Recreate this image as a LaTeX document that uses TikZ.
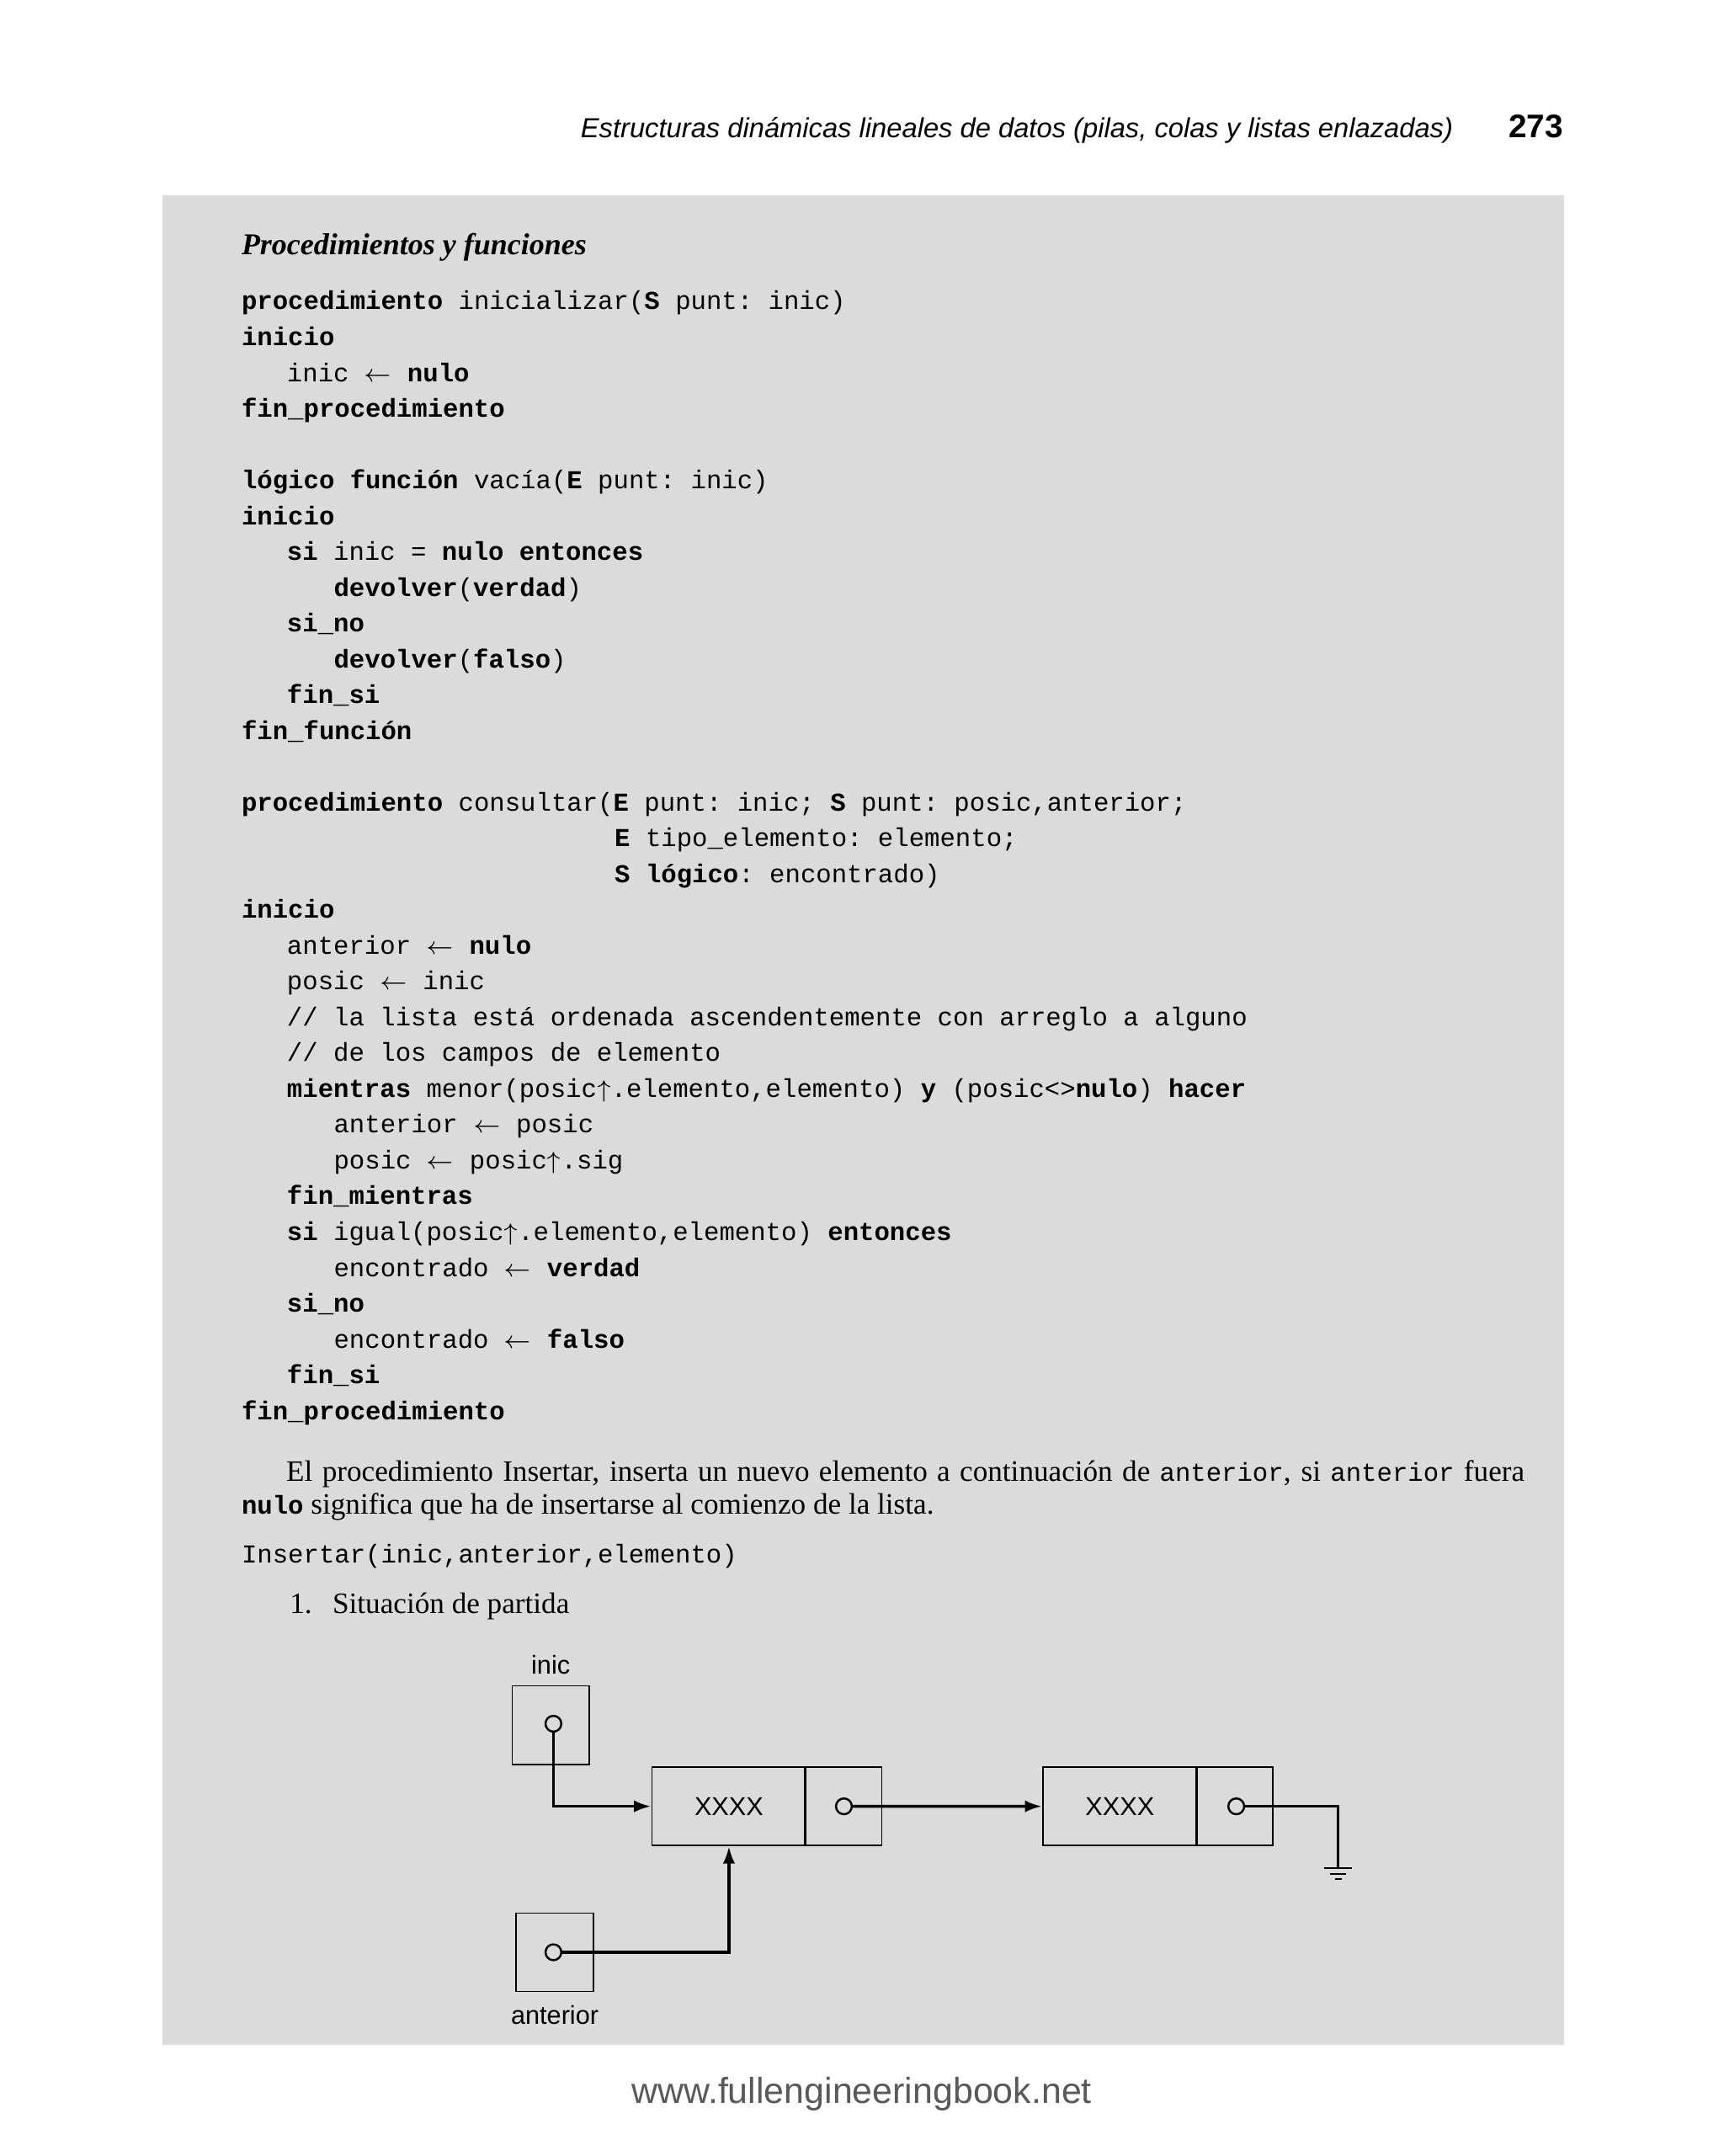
\documentclass[tikz,border=0pt]{standalone}
\usepackage{fontspec}
\setmainfont{Liberation Serif}
\setsansfont{Liberation Sans}
\setmonofont{Liberation Mono}
\usetikzlibrary{arrows.meta,calc}
\newcommand{\kw}[1]{\textbf{#1}}
\newcommand{\la}{\ensuremath{\leftarrow}}
\newcommand{\ua}{\ensuremath{\uparrow}}
\newcommand{\cl}[3]{\node[codeline] at (#1,#2) {#3};}
\tikzset{
  codeline/.style={anchor=base west,inner sep=0,font=\fontsize{7.5}{10}\ttfamily},
  cell/.style={draw,line width=0.4pt,minimum width=22.4pt,minimum height=22.8pt,inner sep=0},
  dot/.style={circle,draw,line width=0.6pt,minimum size=4.6pt,inner sep=0},
  lnk/.style={line width=0.9pt},
  arr/.style={line width=0.9pt,-{Latex[length=5pt,width=3.5pt]}},
}
\begin{document}
\begin{tikzpicture}[x=0.4pt,y=-0.4pt]
\useasboundingbox (0,0) rectangle (1252,1566);
\fill[white] (0,0) rectangle (1252,1566);
\fill[gray!28] (118,142) rectangle (1136,1485);
% header
\node[anchor=base east,inner sep=0,font=\sffamily\itshape\fontsize{8}{10}\selectfont] (hdr) at (1056,100) {Estructuras dinámicas lineales de datos (pilas, colas y listas enlazadas)};
\node[anchor=base east,inner sep=0,font=\sffamily\bfseries\fontsize{9.5}{10}\selectfont] (pg) at (1136,100) {273};
\node[anchor=base west,inner sep=0,font=\bfseries\itshape\fontsize{8.8}{10}\selectfont] (ttl) at (175,185) {Procedimientos y funciones};
% code
\cl{175}{225}{\kw{procedimiento} inicializar(\kw{S} punt: inic)}
\cl{175}{251}{\kw{inicio}}
\cl{208}{277}{inic \la{} \kw{nulo}}
\cl{175}{303}{\kw{fin\_procedimiento}}
\cl{175}{355}{\kw{lógico función} vacía(\kw{E} punt: inic)}
\cl{175}{381}{\kw{inicio}}
\cl{208}{407}{\kw{si} inic = \kw{nulo entonces}}
\cl{242}{433}{\kw{devolver}(\kw{verdad})}
\cl{208}{459}{\kw{si\_no}}
\cl{242}{485}{\kw{devolver}(\kw{falso})}
\cl{208}{511}{\kw{fin\_si}}
\cl{175}{537}{\kw{fin\_función}}
\cl{175}{589}{\kw{procedimiento} consultar(\kw{E} punt: inic; \kw{S} punt: posic,anterior;}
\cl{446}{615}{\kw{E} tipo\_elemento: elemento;}
\cl{446}{641}{\kw{S lógico}: encontrado)}
\cl{175}{667}{\kw{inicio}}
\cl{208}{693}{anterior \la{} \kw{nulo}}
\cl{208}{719}{posic \la{} inic}
\cl{208}{745}{// la lista está ordenada ascendentemente con arreglo a alguno}
\cl{208}{771}{// de los campos de elemento}
\cl{208}{797}{\kw{mientras} menor(posic\ua.elemento,elemento) \kw{y} (posic<>\kw{nulo}) \kw{hacer}}
\cl{242}{823}{anterior \la{} posic}
\cl{242}{849}{posic \la{} posic\ua.sig}
\cl{208}{875}{\kw{fin\_mientras}}
\cl{208}{901}{\kw{si} igual(posic\ua.elemento,elemento) \kw{entonces}}
\cl{242}{927}{encontrado \la{} \kw{verdad}}
\cl{208}{953}{\kw{si\_no}}
\cl{242}{979}{encontrado \la{} \kw{falso}}
\cl{208}{1005}{\kw{fin\_si}}
\cl{175}{1031}{\kw{fin\_procedimiento}}
% paragraph
\node[anchor=north west,inner sep=0,text width=372.8pt,align=justify,font=\fontsize{8.6}{9.6}\selectfont] (par) at (175,1060)
{\hspace*{13pt}El procedimiento Insertar, inserta un nuevo elemento a continuación de {\fontsize{7.5}{9}\ttfamily anterior}, si {\fontsize{7.5}{9}\ttfamily anterior} fuera {\fontsize{7.5}{9}\ttfamily\bfseries nulo} significa que ha de insertarse al comienzo de la lista.};
\cl{175}{1135}{Insertar(inic,anterior,elemento)}
\node[anchor=base west,inner sep=0,font=\fontsize{8.6}{10}\selectfont] (it1) at (210,1172) {1.\hspace{6pt}Situación de partida};
% diagram
\node[cell] (inic) at (400,1253) {};
\node[anchor=base,inner sep=0,font=\sffamily\fontsize{7.5}{9}\selectfont] (linic) at (400,1216) {inic};
\node[dot] (d0) at (402,1252) {};
\node[cell,minimum width=44.8pt,anchor=north west] (n1a) at (473,1283) {\sffamily\fontsize{7.5}{9}\selectfont XXXX};
\node[cell,anchor=north west] (n1b) at (584,1283) {};
\node[dot] (d1) at (613,1312) {};
\node[cell,minimum width=44.8pt,anchor=north west] (n2a) at (757,1283) {\sffamily\fontsize{7.5}{9}\selectfont XXXX};
\node[cell,anchor=north west] (n2b) at (868,1283) {};
\node[dot] (d2) at (898,1312) {};
\node[cell] (ant) at (403,1418) {};
\node[anchor=base,inner sep=0,font=\sffamily\fontsize{7.5}{9}\selectfont] (lant) at (403,1470) {anterior};
\node[dot] (d3) at (402,1418) {};
\coordinate (g) at (972,1357);
\draw[arr] (d0.south) |- (n1a.west);
\draw[arr] (d1.east) -- (n2a.west);
\draw[lnk] (d2.east) -| (g);
\draw[line width=0.5pt] ($(g)+(-10,0)$) -- ++(20,0);
\draw[line width=0.5pt] ($(g)+(-6,4)$) -- ++(12,0);
\draw[line width=0.5pt] ($(g)+(-2.5,8)$) -- ++(5,0);
\draw[arr] (d3.east) -| (n1a.south);
% footer
\node[anchor=base,inner sep=0,font=\sffamily\fontsize{10.5}{12}\selectfont,text=gray!70!black] (ftr) at (626,1528) {www.fullengineeringbook.net};
\end{tikzpicture}
\end{document}
